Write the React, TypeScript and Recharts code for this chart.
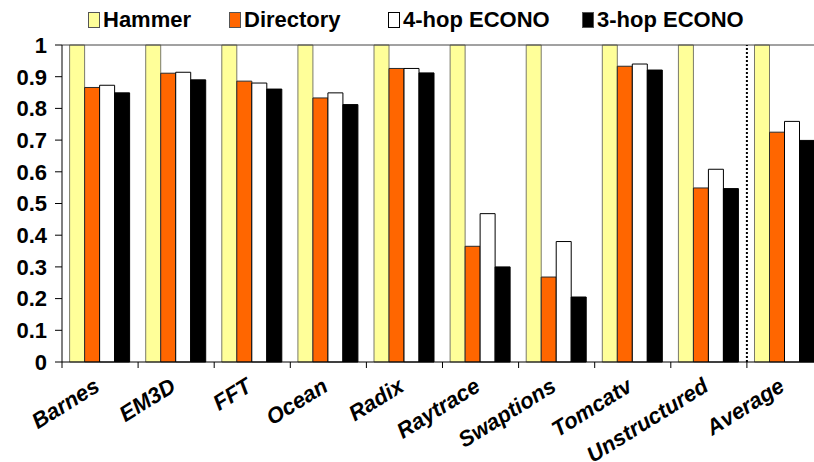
import { BarChart, Bar, XAxis, YAxis, ReferenceLine } from 'recharts'

const categories = ['Barnes', 'EM3D', 'FFT', 'Ocean', 'Radix', 'Raytrace', 'Swaptions', 'Tomcatv', 'Unstructured', 'Average']
const hammer = [1, 1, 1, 1, 1, 1, 1, 1, 1, 1]
const directory = [0.866, 0.911, 0.886, 0.833, 0.926, 0.365, 0.268, 0.933, 0.549, 0.725]
const fourHop = [0.873, 0.914, 0.88, 0.849, 0.926, 0.468, 0.38, 0.94, 0.608, 0.759]
const threeHop = [0.849, 0.89, 0.861, 0.812, 0.912, 0.3, 0.205, 0.921, 0.547, 0.699]
const yTicks = [0, 0.1, 0.2, 0.3, 0.4, 0.5, 0.6, 0.7, 0.8, 0.9, 1]

const series = [
  { key: 'hammer', name: 'Hammer', fill: '#ffff99', stroke: '#7a7a6a' },
  { key: 'directory', name: 'Directory', fill: '#ff6600', stroke: '#2a2a2a' },
  { key: 'fourHop', name: '4-hop ECONO', fill: '#ffffff', stroke: '#000000' },
  { key: 'threeHop', name: '3-hop ECONO', fill: '#000000', stroke: '#000000' },
]

const data = categories.map((name, i) => ({
  name,
  hammer: hammer[i],
  directory: directory[i],
  fourHop: fourHop[i],
  threeHop: threeHop[i],
}))

const FONT = '"Liberation Sans", Arial, sans-serif'
const CHART_W = 840
const M_LEFT = 6
const M_RIGHT = 17
const Y_W = 56
const BAND = (CHART_W - M_LEFT - M_RIGHT - Y_W) / categories.length
// legend item left edges
const LEGEND_X = [88, 229, 388, 582]

function XTick({ x, y, payload }: any) {
  return (
    <g transform={`translate(${x},${y})`}>
      <line x1={-BAND / 2} y1={0} x2={-BAND / 2} y2={6} stroke="#000" />
      <text
        x={0}
        y={0}
        transform="translate(1,28) rotate(-32)"
        textAnchor="end"
        fontFamily={FONT}
        fontWeight="bold"
        fontStyle="italic"
        fontSize={22}
        fill="#000"
      >
        {payload.value}
      </text>
    </g>
  )
}

function LegendRow() {
  return (
    <>
      {series.map((s, i) => (
        <div
          key={s.key}
          style={{
            position: 'absolute',
            left: LEGEND_X[i],
            top: 7,
            display: 'flex',
            alignItems: 'center',
            fontFamily: FONT,
            fontWeight: 'bold',
            fontSize: 22,
            whiteSpace: 'nowrap',
          }}
        >
          <span
            style={{
              display: 'inline-block',
              width: 10,
              height: 14,
              background: s.fill,
              border: `1px solid ${s.key === 'fourHop' ? '#000' : '#555'}`,
              marginRight: 3,
            }}
          />
          <span>{s.name}</span>
        </div>
      ))}
    </>
  )
}

export default function App() {
  return (
    <div style={{ position: 'absolute', left: 0, top: 0, width: 814, height: 462, overflow: 'hidden', background: '#fff' }}>
      <LegendRow />
      <BarChart
        width={CHART_W}
        height={462}
        data={data}
        margin={{ top: 45, right: M_RIGHT, left: M_LEFT, bottom: 10 }}
        barCategoryGap="10%"
        barGap={0}
      >
        <XAxis
          dataKey="name"
          height={90}
          interval={0}
          axisLine={{ stroke: '#000' }}
          tickLine={false}
          tickSize={0}
          tickMargin={0}
          tick={<XTick />}
        />
        <YAxis
          width={Y_W}
          domain={[0, 1]}
          ticks={yTicks}
          interval={0}
          axisLine={{ stroke: '#000' }}
          tickLine={{ stroke: '#000' }}
          tickSize={7}
          tickMargin={8}
          tick={{ fontFamily: FONT, fontWeight: 'bold', fontSize: 22, fill: '#000' }}
        />
        <ReferenceLine y={1} stroke="#444" />
        {series.map((s) => (
          <Bar
            key={s.key}
            dataKey={s.key}
            name={s.name}
            fill={s.fill}
            stroke={s.stroke}
            strokeWidth={1}
            isAnimationActive={false}
          />
        ))}
        <ReferenceLine x="Average" position="start" stroke="#000" strokeWidth={2} strokeDasharray="2 2" />
      </BarChart>
    </div>
  )
}
